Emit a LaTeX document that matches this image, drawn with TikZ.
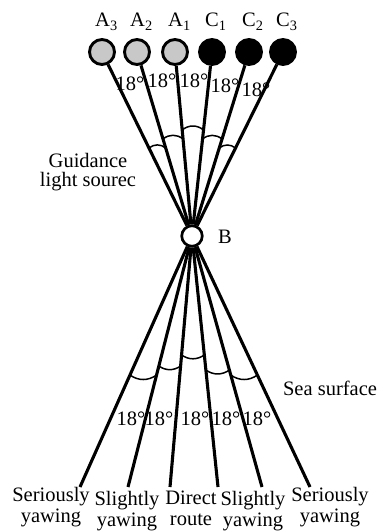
\documentclass[tikz,border=0pt]{standalone}
\usepackage{fontspec}
\setmainfont{Liberation Serif}
\usetikzlibrary{calc,backgrounds}
\definecolor{lampgray}{RGB}{200,200,200}
\begin{document}
\begin{tikzpicture}[x=1pt,y=-1pt,
  every node/.style={font=\fontsize{20.5}{20.5}\selectfont, inner sep=0pt},
  ray/.style={line width=3.1pt},
  lamp/.style={circle, draw, line width=2.9pt, minimum size=25pt},
  grey lamp/.style={lamp, fill=lampgray},
  dark lamp/.style={lamp, fill=black},
  hub/.style={circle, draw, line width=2.7pt, minimum size=20.5pt, fill=white},
  anglemark/.style={line width=1.5pt},
  lbl/.style={anchor=base},
  caption/.style={align=center, anchor=north}]
\useasboundingbox (0,0) rectangle (381,532);

% light sources and the observation point
\node[grey lamp] (A3) at (102,52) {};
\node[grey lamp] (A2) at (137,52) {};
\node[grey lamp] (A1) at (175,52) {};
\node[dark lamp] (C1) at (212,52) {};
\node[dark lamp] (C2) at (249,52) {};
\node[dark lamp] (C3) at (283,52) {};
\node[hub] (B) at (192,236) {};

\node[anchor=base west] at (95,27) {A\textsubscript{3}};
\node[anchor=base west] at (130,27) {A\textsubscript{2}};
\node[anchor=base west] at (168,27) {A\textsubscript{1}};
\node[anchor=base west] at (205,27) {C\textsubscript{1}};
\node[anchor=base west] at (242,27) {C\textsubscript{2}};
\node[anchor=base west] at (276,27) {C\textsubscript{3}};
\node[lbl] at (225,243) {B};

% lower ray ends
\coordinate (E1) at (80,487);
\coordinate (E2) at (128,487);
\coordinate (E3) at (170,487);
\coordinate (E4) at (218,487);
\coordinate (E5) at (262,487);
\coordinate (E6) at (310,487);

\begin{pgfonlayer}{background}
  \foreach \n in {A3,A2,A1,C1,C2,C3} \draw[ray] (\n) -- (B);
  \foreach \n in {E1,E2,E3,E4,E5,E6} \draw[ray] (B) -- (\n);
\end{pgfonlayer}

% angle marks between the upper rays
\draw[anglemark] ($(B)!0.478!(A3)$) to[bend left=40] ($(B)!0.478!(A2)$);
\draw[anglemark] ($(B)!0.527!(A2)$) to[bend left=40] ($(B)!0.527!(A1)$);
\draw[anglemark] ($(B)!0.576!(A1)$) to[bend left=40] ($(B)!0.576!(C1)$);
\draw[anglemark] ($(B)!0.527!(C1)$) to[bend left=40] ($(B)!0.527!(C2)$);
\draw[anglemark] ($(B)!0.478!(C2)$) to[bend left=40] ($(B)!0.478!(C3)$);

% angle marks between the lower rays
\draw[anglemark] ($(B)!0.554!(E1)$) to[bend right=35] ($(B)!0.554!(E2)$);
\draw[anglemark] ($(B)!0.518!(E2)$) to[bend right=35] ($(B)!0.518!(E3)$);
\draw[anglemark] ($(B)!0.474!(E3)$) to[bend right=35] ($(B)!0.474!(E4)$);
\draw[anglemark] ($(B)!0.534!(E4)$) to[bend right=35] ($(B)!0.534!(E5)$);
\draw[anglemark] ($(B)!0.554!(E5)$) to[bend right=35] ($(B)!0.554!(E6)$);

% angle values
\node[lbl] at (130,91) {18°};
\node[lbl] at (162,88) {18°};
\node[lbl] at (194,88) {18°};
\node[lbl] at (225,93) {18°};
\node[lbl] at (256,96) {18°};

\node[lbl] at (131,425) {18°};
\node[lbl] at (159,425) {18°};
\node[lbl] at (195,425) {18°};
\node[lbl] at (226,425) {18°};
\node[lbl] at (257,425) {18°};

% captions
\node[caption, font=\fontsize{20.5}{19.5}\selectfont] at (88,153) {Guidance\\light sourec};
\node[lbl] at (330,395) {Sea surface};

\node[caption, font=\fontsize{20.5}{21}\selectfont] at (51,487) {Seriously\\yawing};
\node[caption, font=\fontsize{20.5}{21}\selectfont] at (127,491) {Slightly\\yawing};
\node[caption, font=\fontsize{20.5}{21}\selectfont] at (191,491) {Direct\\route};
\node[caption, font=\fontsize{20.5}{21}\selectfont] at (253,491) {Slightly\\yawing};
\node[caption, font=\fontsize{20.5}{21}\selectfont] at (330,487) {Seriously\\yawing};
\end{tikzpicture}
\end{document}
